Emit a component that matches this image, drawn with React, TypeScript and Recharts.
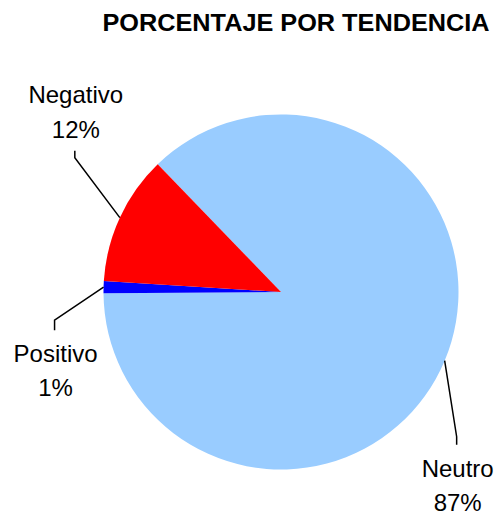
import React from 'react';
import { PieChart, Pie, Cell } from 'recharts';

const categories = ['Neutro', 'Positivo', 'Negativo'];
const values = [87.1, 1.1, 11.8];
const percentLabels = ['87%', '1%', '12%'];
const colors = ['#99CCFF', '#0000FF', '#FF0000'];

const data = categories.map((name, i) => ({ name, value: values[i] }));

// leader line bends, relative to the slice edge (dx, dy to elbow, then vertical tail)
const leader: Record<string, { dx: number; dy: number; tail: number }> = {
  Negativo: { dx: -45, dy: -60, tail: -7 },
  Positivo: { dx: -49, dy: 33, tail: 10 },
  Neutro: { dx: 12, dy: 76, tail: 8 },
};

const RADIAN = Math.PI / 180;
const font = '"Liberation Sans", Arial, sans-serif';

function renderLabel(props: any) {
  const { cx, cy, midAngle, outerRadius, index } = props;
  const name = categories[index];
  const l = leader[name];
  const x0 = cx + outerRadius * Math.cos(-midAngle * RADIAN);
  const y0 = cy + outerRadius * Math.sin(-midAngle * RADIAN);
  const x1 = x0 + l.dx;
  const y1 = y0 + l.dy;
  const y2 = y1 + l.tail;
  const up = l.tail < 0;
  const b1 = up ? y2 - 48 : y2 + 32;
  const b2 = up ? y2 - 13 : y2 + 66;
  return (
    <g key={name}>
      <polyline points={`${x0},${y0} ${x1},${y1} ${x1},${y2}`} fill="none" stroke="#000" strokeWidth={1.5} />
      <text x={x1 + 1} y={b1} textAnchor="middle" fontFamily={font} fontSize={24} fill="#000">{name}</text>
      <text x={x1 + 1} y={b2} textAnchor="middle" fontFamily={font} fontSize={24} fill="#000">{percentLabels[index]}</text>
    </g>
  );
}

export default function App() {
  return (
    <div style={{ position: 'absolute', left: 0, top: 0, width: 499, height: 517, background: '#fff' }}>
      <PieChart width={499} height={517} margin={{ top: 0, right: 0, bottom: 0, left: 0 }}>
        <text x={296} y={31} textAnchor="middle" fontFamily={font} fontWeight="bold" fontSize={23} textLength={387} lengthAdjust="spacingAndGlyphs" fill="#000">
          PORCENTAJE POR TENDENCIA
        </text>
        <Pie
          data={data}
          dataKey="value"
          nameKey="name"
          cx={281}
          cy={292}
          outerRadius={177.5}
          startAngle={134}
          endAngle={-226}
          stroke="none"
          label={renderLabel}
          labelLine={false}
          isAnimationActive={false}
        >
          {data.map((d, i) => (
            <Cell key={d.name} fill={colors[i]} />
          ))}
        </Pie>
      </PieChart>
    </div>
  );
}
